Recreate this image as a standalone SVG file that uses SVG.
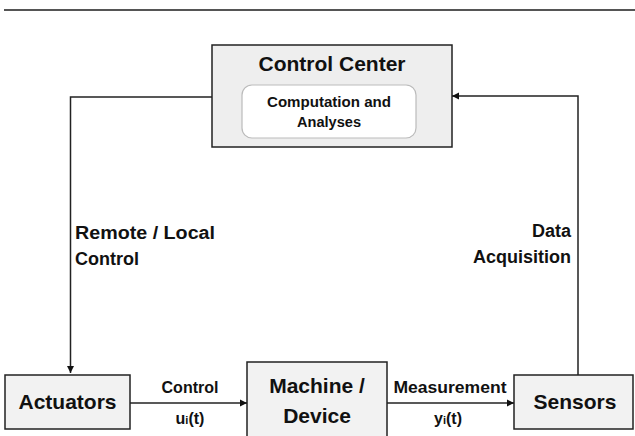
<svg xmlns="http://www.w3.org/2000/svg" width="635" height="436" viewBox="0 0 635 436">
<style>
text{font-family:"Liberation Sans",Arial,sans-serif;font-weight:bold;fill:#111}
.box{fill:#f2f2f2;stroke:#222;stroke-width:1.5}
.conn{fill:none;stroke:#222;stroke-width:1.5}
.big{font-size:21px}
.lbl{font-size:18px}
.sm{font-size:16px}
</style>
<defs>
<marker id="arr" markerWidth="8" markerHeight="8" refX="7" refY="4" orient="auto" markerUnits="userSpaceOnUse">
<path d="M0,0.5 L7,4 L0,7.5 Z" fill="#111"/>
</marker>
</defs>
<rect width="635" height="436" fill="#fff"/>
<line x1="4" y1="10" x2="635" y2="10" stroke="#555" stroke-width="2.2"/>
<g id="control-center">
<rect class="box" x="212" y="45" width="240" height="102" style="fill:#eeeeee"/>
<text class="big" x="332" y="71" text-anchor="middle">Control Center</text>
<rect x="242" y="85" width="174" height="53" rx="10" fill="#fff" stroke="#bbb" stroke-width="1.2"/>
<text x="329" y="107" text-anchor="middle" font-size="14" textLength="124" lengthAdjust="spacingAndGlyphs">Computation and</text>
<text x="329" y="127" text-anchor="middle" font-size="14" textLength="64" lengthAdjust="spacingAndGlyphs">Analyses</text>
</g>
<g id="actuators">
<rect class="box" x="5" y="375" width="125" height="54"/>
<text class="big" x="67.5" y="409" text-anchor="middle">Actuators</text>
</g>
<g id="machine">
<rect class="box" x="247" y="362" width="140" height="80"/>
<text class="big" x="317" y="393" text-anchor="middle">Machine /</text>
<text class="big" x="317" y="423" text-anchor="middle">Device</text>
</g>
<g id="sensors">
<rect class="box" x="514" y="375" width="119" height="54"/>
<text class="big" x="575" y="409" text-anchor="middle">Sensors</text>
</g>
<g id="connectors">
<path class="conn" d="M212,97 H70.5 V373" marker-end="url(#arr)"/>
<path class="conn" d="M578,375 V96 H452" marker-end="url(#arr)"/>
<path class="conn" d="M130,403 H247" marker-end="url(#arr)"/>
<path class="conn" d="M387,403 H514" marker-end="url(#arr)"/>
<text class="lbl" x="75" y="239" textLength="140" lengthAdjust="spacingAndGlyphs">Remote / Local</text>
<text class="lbl" x="75" y="265">Control</text>
<text class="lbl" x="571" y="237" text-anchor="end">Data</text>
<text class="lbl" x="571" y="263" text-anchor="end">Acquisition</text>
<text class="sm" x="190" y="393" text-anchor="middle">Control</text>
<text class="sm" x="190" y="424" text-anchor="middle">u<tspan font-size="11">i</tspan>(t)</text>
<text class="sm" x="450" y="393" text-anchor="middle" textLength="113" lengthAdjust="spacingAndGlyphs">Measurement</text>
<text class="sm" x="448" y="424" text-anchor="middle">y<tspan font-size="11">i</tspan>(t)</text>
</g>
</svg>
